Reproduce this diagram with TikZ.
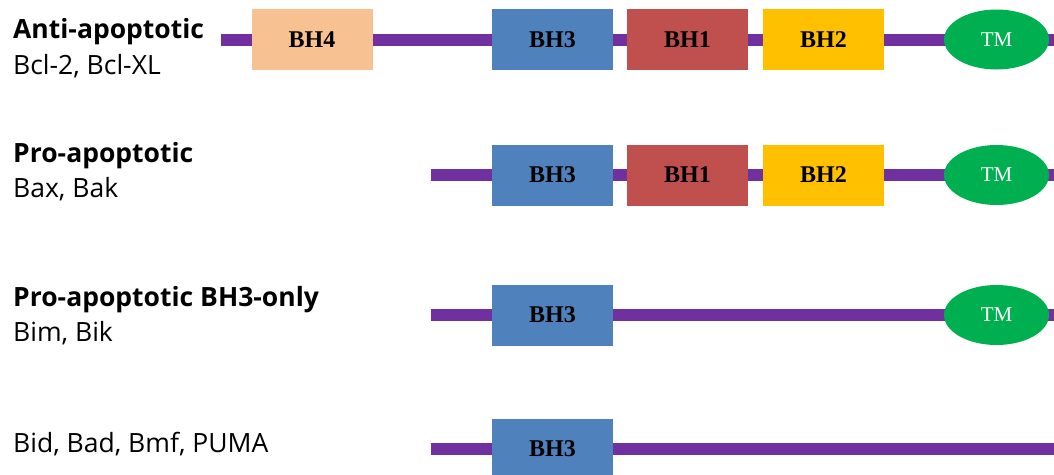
\documentclass[tikz,border=0pt]{standalone}
\usepackage{fontspec}
\setmainfont{Open Sans}
\newfontfamily\boxfont{Liberation Serif}
\usetikzlibrary{shapes.geometric,backgrounds}
\definecolor{chain}{HTML}{7030A0}
\definecolor{bhfour}{HTML}{F8C191}
\definecolor{bhthree}{HTML}{4F81BD}
\definecolor{bhone}{HTML}{C0504D}
\definecolor{bhtwo}{HTML}{FFC000}
\definecolor{tmgreen}{HTML}{00B050}
\begin{document}
\begin{tikzpicture}[x=1pt,y=-1pt,
  dom/.style={draw=none, minimum width=121pt, minimum height=61pt, inner sep=0pt,
    font=\boxfont\bfseries\fontsize{24}{24}\selectfont, text=black},
  tmdom/.style={ellipse, fill=tmgreen, minimum width=105pt, minimum height=60pt, inner sep=0pt,
    text=white, font=\boxfont\fontsize{21}{21}\selectfont},
  chainline/.style={line width=12pt, draw=chain},
  lbl/.style={anchor=base west, inner sep=0pt, font=\fontsize{26.5}{30}\selectfont},
  lblb/.style={lbl, font=\bfseries\fontsize{26.5}{30}\selectfont},
]
\useasboundingbox (0,0) rectangle (1054,474);
\clip (0,0) rectangle (1054,474);

% Row 1
\node[dom, fill=bhfour] (r1bh4) at (312,39.5) {BH4};
\node[dom, fill=bhthree] (r1bh3) at (552.5,39.5) {BH3};
\node[dom, fill=bhone] (r1bh1) at (687.5,39.5) {BH1};
\node[dom, fill=bhtwo] (r1bh2) at (823.5,39.5) {BH2};
\node[tmdom] (r1tm) at (996.5,39.5) {TM};
\coordinate (r1s) at (221,39.5);
\coordinate (r1e) at (1060,39.5);

% Row 2
\node[dom, fill=bhthree] (r2bh3) at (552.5,175) {BH3};
\node[dom, fill=bhone] (r2bh1) at (687.5,175) {BH1};
\node[dom, fill=bhtwo] (r2bh2) at (823.5,175) {BH2};
\node[tmdom] (r2tm) at (996.5,175) {TM};
\coordinate (r2s) at (431,175);
\coordinate (r2e) at (1060,175);

% Row 3
\node[dom, fill=bhthree] (r3bh3) at (552.5,315) {BH3};
\node[tmdom] (r3tm) at (996.5,315) {TM};
\coordinate (r3s) at (431,315);
\coordinate (r3e) at (1060,315);

% Row 4
\node[dom, fill=bhthree] (r4bh3) at (552.5,449) {BH3};
\coordinate (r4s) at (431,449);
\coordinate (r4e) at (1060,449);

\begin{scope}[on background layer]
  \draw[chainline] (r1s) -- (r1bh4.center) -- (r1bh3.center) -- (r1bh1.center) -- (r1bh2.center) -- (r1tm.center) -- (r1e);
  \draw[chainline] (r2s) -- (r2bh3.center) -- (r2bh1.center) -- (r2bh2.center) -- (r2tm.center) -- (r2e);
  \draw[chainline] (r3s) -- (r3bh3.center) -- (r3tm.center) -- (r3e);
  \draw[chainline] (r4s) -- (r4bh3.center) -- (r4e);
\end{scope}

% Labels
\node[lblb] (l1a) at (13,38) {Anti-apoptotic};
\node[lbl] (l1b) at (13,74) {Bcl-2, Bcl-XL};
\node[lblb] (l2a) at (13,162) {Pro-apoptotic};
\node[lbl] (l2b) at (13,197) {Bax, Bak};
\node[lblb] (l3a) at (13,306) {Pro-apoptotic BH3-only};
\node[lbl] (l3b) at (13,341) {Bim, Bik};
\node[lbl] (l4a) at (13,452) {Bid, Bad, Bmf, PUMA};
\end{tikzpicture}
\end{document}
